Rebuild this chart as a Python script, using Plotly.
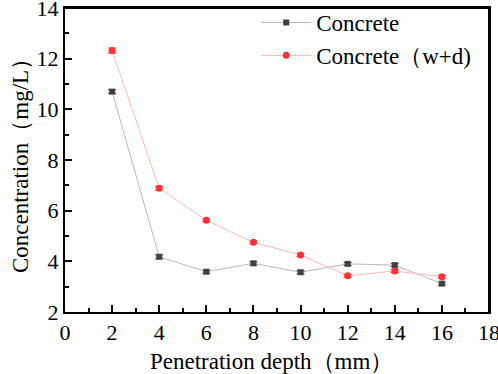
import plotly.graph_objects as go

depth = [2, 4, 6, 8, 10, 12, 14, 16]
concrete = [10.7, 4.18, 3.59, 3.92, 3.57, 3.9, 3.85, 3.12]
concrete_wd = [12.32, 6.88, 5.62, 4.75, 4.25, 3.43, 3.62, 3.39]
err_c = [0.08, 0.08, 0.06, 0.06, 0.06, 0.06, 0.06, 0.06]
err_wd = [0.1, 0.08, 0.06, 0.06, 0.06, 0.06, 0.06, 0.06]
x_title = "Penetration depth（mm）"
y_title = "Concentration（mg/L）"

font = "Liberation Serif"
fs = 23

fig = go.Figure()
fig.add_trace(go.Scatter(
    x=depth, y=concrete, mode="lines+markers", name="Concrete",
    line=dict(color="#b8b8b8", width=1),
    marker=dict(symbol="square", size=6, color="#404040"),
    error_y=dict(type="data", array=err_c, color="#404040", thickness=1, width=4),
))
fig.add_trace(go.Scatter(
    x=depth, y=concrete_wd, mode="lines+markers", name="Concrete（w+d)",
    line=dict(color="#ffb8b8", width=1),
    marker=dict(symbol="circle", size=7, color="#ff3333"),
    error_y=dict(type="data", array=err_wd, color="#ff3333", thickness=1, width=4),
))

axis_common = dict(
    showline=True, linecolor="black", linewidth=2, mirror=True,
    ticks="inside", ticklen=7, tickwidth=1.5, tickcolor="black",
    showgrid=False, zeroline=False, automargin=False,
    ticklabeloverflow="allow",
    tickfont=dict(family=font, size=22, color="black"),
    minor=dict(ticks="inside", ticklen=4, tickwidth=1.5, tickcolor="black", dtick=1),
)
fig.update_xaxes(range=[0, 18], dtick=2, tick0=0, **axis_common)
fig.update_yaxes(range=[2, 14], dtick=2, tick0=2, **axis_common)

# explicit frame edges (top and right) in addition to the mirrored axis lines
fig.add_shape(type="line", xref="paper", yref="paper", x0=0, y0=1, x1=1, y1=1,
              line=dict(color="black", width=2), layer="above")
fig.add_shape(type="line", xref="paper", yref="paper", x0=1, y0=0, x1=1, y1=1,
              line=dict(color="black", width=2), layer="above")

fig.add_annotation(text=x_title, xref="paper", yref="paper", x=0.486, y=-0.163,
                   xanchor="center", yanchor="middle", showarrow=False,
                   font=dict(family=font, size=fs, color="black"))
fig.add_annotation(text=y_title, xref="paper", yref="paper", x=-0.106, y=0.5,
                   xanchor="center", yanchor="middle", showarrow=False, textangle=-90,
                   font=dict(family=font, size=fs, color="black"))

fig.update_layout(
    width=498, height=374,
    margin=dict(l=65, r=9, t=8, b=62, autoexpand=False),
    plot_bgcolor="white", paper_bgcolor="white",
    showlegend=True,
    legend=dict(x=0.451, y=1.023, xanchor="left", yanchor="top", bgcolor="rgba(0,0,0,0)",
                font=dict(family=font, size=fs, color="black"), tracegroupgap=0,
                itemwidth=50),
)

fig.write_html("out.html", config={"displayModeBar": False},
               post_script="document.body.style.margin='0';document.body.style.overflow='hidden';")
